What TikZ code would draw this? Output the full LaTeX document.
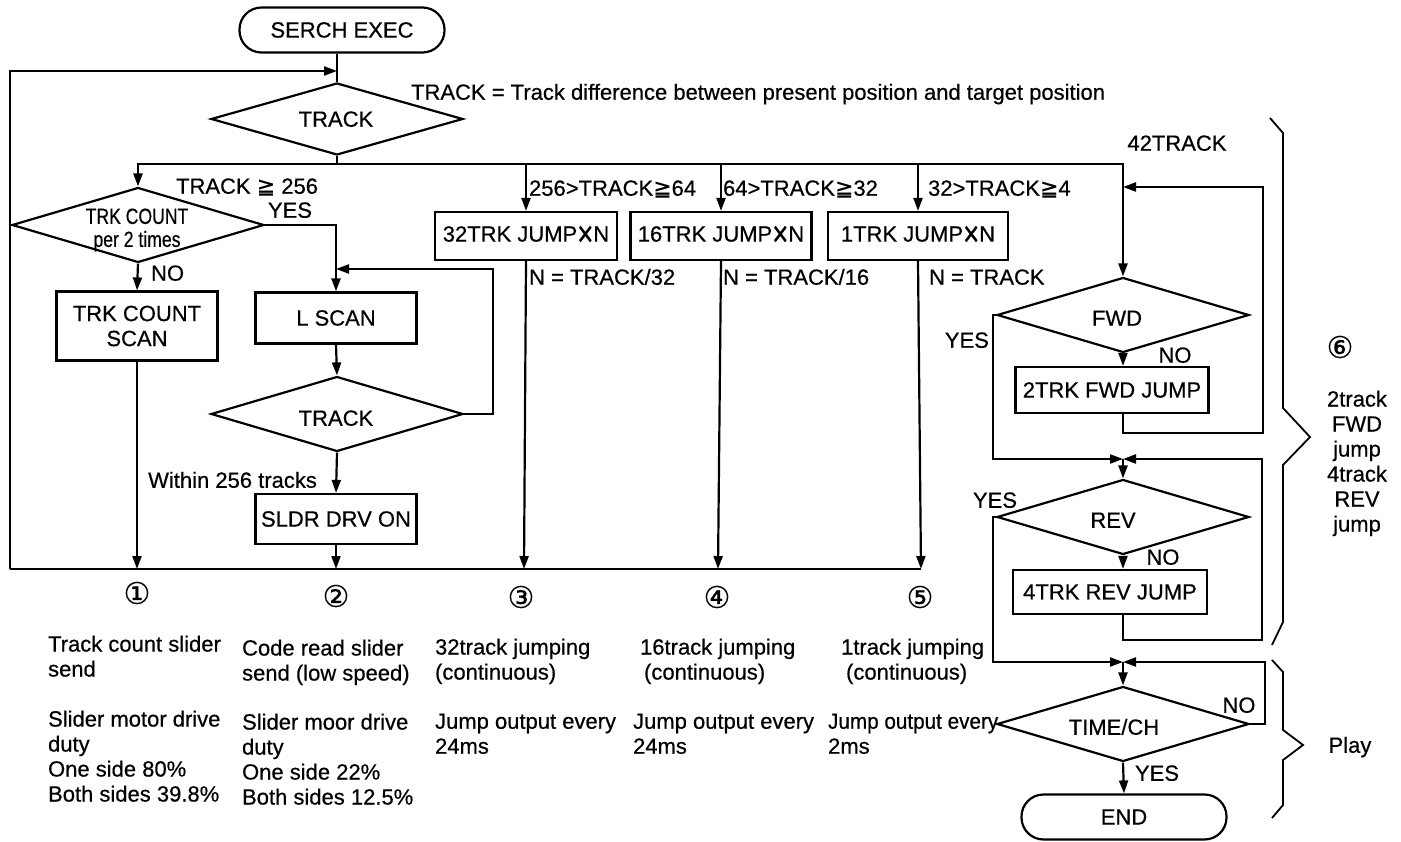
\documentclass[tikz,border=0pt]{standalone}
\usepackage{graphicx}
\usepackage{fontspec}
\setmainfont{Liberation Sans}[FakeBold=0.5]
\newfontfamily\symf{DejaVu Sans}[FakeBold=0.3]
\usetikzlibrary{shapes.geometric,arrows.meta,calc}
\newcommand{\gqq}{{\symf ≧}}
\newcommand{\mulx}{\raisebox{-4.5pt}{\scalebox{1.25}[1.65]{×}}}
\begin{document}
\begin{tikzpicture}[x=1pt,y=-1pt,line width=2.2pt,
  font=\fontsize{22}{25}\selectfont,
  box/.style={draw,rectangle,inner sep=0pt,align=center},
  dec/.style={draw,diamond,inner sep=0pt,minimum width=252pt,minimum height=75pt},
  term/.style={draw,rectangle,rounded corners=22pt,minimum width=205pt,minimum height=45pt,inner sep=0pt},
  lab/.style={inner sep=0pt,text height=15.5pt,text depth=0pt},
  blk/.style={inner sep=0pt,align=left,anchor=north west},
  circ/.style={inner sep=0pt,font=\symf\fontsize{30}{30}\selectfont},
  arr/.style={-{Triangle[length=13pt,width=9pt]}},
  brace/.style={line width=1.8pt}]
\useasboundingbox (0,0) rectangle (1401,842);

% ---- top
\node[term] (start) at (342,30) {SERCH EXEC};
\node[dec,minimum height=72pt] (d1) at (337,119) {};
\node[lab] (d1t) at (336,119) {TRACK};
\node[lab,anchor=west] (def) at (410,92) {TRACK = Track difference between present position and target position};
\coordinate (m0) at (337,71);
\coordinate (br) at (337,164);
\coordinate (bl) at (10,569);
\coordinate (n1) at (137,569);
\coordinate (n2) at (336,569);
\coordinate (n3) at (524,569);
\coordinate (n4) at (718,569);
\coordinate (n5) at (921,569);

% ---- column 1
\node[dec] (d2) at (138,225) {};
\node[inner sep=0pt,align=center,font=\fontsize{22}{23}\selectfont] (d2t) at (137,230)
  {\scalebox{0.8}[1]{TRK COUNT}\\\scalebox{0.8}[1]{per 2 times}};
\node[lab,anchor=west] (c256) at (175,186) {TRACK \gqq\ 256};
\node[lab] (yes0) at (290,210) {YES};
\node[lab,anchor=west] (no0) at (150,273) {NO};
\node[box,minimum width=161pt,minimum height=69pt] (scan1) at (137,326) {TRK COUNT\\SCAN};

% ---- column 2
\node[box,minimum width=161pt,minimum height=51pt] (lscan) at (336,318) {L SCAN};
\node[dec] (d3) at (337,414) {};
\node[lab] (d3t) at (336,418) {TRACK};
\node[lab,anchor=east] (w256) at (318,480) {Within 256 tracks};
\node[box,minimum width=161pt,minimum height=50pt] (sldr) at (336,519) {SLDR DRV ON};
\coordinate (m2) at (336,269);
\coordinate (lp) at (493,414);

% ---- columns 3-5
\node[box,minimum width=182pt,minimum height=48pt] (b32) at (526,236) {32TRK JUMP\mulx N};
\node[box,minimum width=181pt,minimum height=48pt] (b16) at (721,236) {16TRK JUMP\mulx N};
\node[box,minimum width=180pt,minimum height=48pt] (b1) at (918,236) {1TRK JUMP\mulx N};
\node[lab,anchor=west] (c64) at (528,188) {256>TRACK\gqq 64};
\node[lab,anchor=west] (c32) at (722,188) {64>TRACK\gqq 32};
\node[lab,anchor=west] (c4) at (927,188) {32>TRACK\gqq 4};
\node[lab,anchor=west] (nn32) at (528,277) {N = TRACK/32};
\node[lab,anchor=west] (nn16) at (722,277) {N = TRACK/16};
\node[lab,anchor=west] (nn1) at (928,277) {N = TRACK};

% ---- circled numbers
\node[circ] (o1) at (137,593) {①};
\node[circ] (o2) at (336,596) {②};
\node[circ] (o3) at (521,597) {③};
\node[circ] (o4) at (717,597) {④};
\node[circ] (o5) at (920,597) {⑤};

% ---- bottom texts
\node[blk] (tx1a) at (47,634.5) {Track count slider\\send};
\node[blk] (tx1b) at (47,709.5) {Slider motor drive\\duty\\One side 80\%\\Both sides 39.8\%};
\node[blk] (tx2a) at (241,638.5) {Code read slider\\send (low speed)};
\node[blk] (tx2b) at (241,712.5) {Slider moor drive\\duty\\One side 22\%\\Both sides 12.5\%};
\node[blk] (tx3a) at (434,637.5) {32track jumping\\(continuous)};
\node[blk] (tx3b) at (434,712.5) {Jump output every\\24ms};
\node[blk] (tx4a) at (639,637.5) {16track jumping\\\hspace*{4pt}(continuous)};
\node[blk] (tx4b) at (632,712.5) {Jump output every\\24ms};
\node[blk] (tx5a) at (840,637.5) {1track jumping\\\hspace*{5pt}(continuous)};
\node[blk] (tx5b) at (827,712.5) {\scalebox{0.94}[1]{Jump output every}\\2ms};

% ---- right column
\node[lab] (t42) at (1177,143) {42TRACK};
\node[dec] (fwd) at (1123,315) {};
\node[lab] (fwdt) at (1117,318) {FWD};
\node[lab,anchor=east] (yes1) at (990,340) {YES};
\node[lab] (no1) at (1175,355) {NO};
\node[box,minimum width=193pt,minimum height=46pt] (fjump) at (1112,390) {2TRK FWD JUMP};
\coordinate (m3) at (1123,187);
\coordinate (rc1) at (1263,433);
\coordinate (lx1) at (993,315);
\coordinate (m4) at (1123,459);
\node[dec] (rev) at (1123,517) {};
\node[lab] (revt) at (1113,520) {REV};
\node[lab] (yes2) at (995,500) {YES};
\node[lab] (no2) at (1163,557) {NO};
\node[box,minimum width=194pt,minimum height=44pt] (rjump) at (1110,592) {4TRK REV JUMP};
\coordinate (rc2) at (1262,640);
\coordinate (lx2) at (993,517);
\coordinate (m5) at (1123,662);
\node[dec] (tim) at (1123,724) {};
\node[lab] (timt) at (1114,727) {TIME/CH};
\coordinate (rc3) at (1265,724);
\node[lab] (no3) at (1239,705) {NO};
\node[lab] (yes3) at (1157,773) {YES};
\node[term] (endn) at (1124,817) {END};

% ---- right annotations
\node[circ] (o6) at (1340,347) {⑥};
\node[inner sep=0pt,align=center,anchor=north] (ann) at (1357,389.5) {2track\\FWD\\jump\\4track\\REV\\jump};
\node[lab] (play) at (1350,745) {Play};
\draw[brace] (1270,118) -- (1283,133) -- (1283,408) -- (1310,437) -- (1283,465) -- (1283,622) -- (1272,645);
\draw[brace] (1272,660) -- (1283,672) -- (1283,730) -- (1303,745) -- (1283,760) -- (1283,805) -- (1272,818);

% ---- connectors
\draw (start.south -| d1.north) -- (d1.north);
\draw[arr] (bl) |- (m0);
\draw (bl) -- (n5);
\draw (d1.south) -- (br);
\draw[arr] (br) -| (d2.north);
\draw[arr] (br) -| (b32.north);
\draw[arr] (br) -| (b16.north);
\draw[arr] (br) -| (b1.north);
\draw[arr] (br) -| (fwd.north);
\draw[arr] (d2.south) -- (scan1.north);
\draw[arr] (scan1.south) -- (n1);
\draw[arr] (d2.east) -| (lscan.north);
\draw[arr] (lscan.south) -- (d3.north);
\draw[arr] (d3.east) -- (lp) |- (m2);
\draw[arr] (d3.south) -- (sldr.north);
\draw[arr] (sldr.south) -- (n2);
\draw[arr] (b32.south) -- (n3);
\draw[arr] (b16.south) -- (n4);
\draw[arr] (b1.south) -- (n5);
% right
\draw[arr] (fwd.south) -- (fwd.south |- fjump.north);
\draw[arr] (fjump.south -| fwd.south) |- (rc1) |- (m3);
\draw[arr] (fwd.west) -- (lx1) |- (m4);
\draw[arr] (m4) -- (rev.north);
\draw[arr] (rev.south) -- (rev.south |- rjump.north);
\draw[arr] (rjump.south -| rev.south) |- (rc2) |- (m4);
\draw[arr] (rev.west) -- (lx2) |- (m5);
\draw[arr] (m5) -- (tim.north);
\draw[arr] (tim.east) -- (rc3) |- (m5);
\draw[arr] (tim.south) -- (endn.north);
\end{tikzpicture}
\end{document}
